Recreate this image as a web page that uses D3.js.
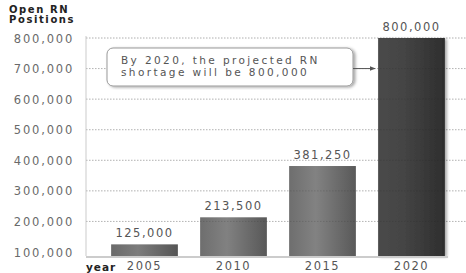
<!DOCTYPE html>
<html>
<head>
<meta charset="utf-8">
<script src="https://cdn.jsdelivr.net/npm/d3@7"></script>
<style>
body { margin: 0; background: #fff; }
text { font-family: "DejaVu Sans", Verdana, sans-serif; }
</style>
</head>
<body>
<svg class="chart"></svg>
<script>
var width = 466, height = 273;

var years = ["2005", "2010", "2015", "2020"];
var openings = [125000, 213500, 381250, 800000];
var yTicks = [100000, 200000, 300000, 400000, 500000, 600000, 700000, 800000];
var note = ["By 2020, the projected RN", "shortage will be 800,000"];

var chart = d3.select(".chart")
    .attr("width", width)
    .attr("height", height);

var defs = chart.append("defs");
var gradients = [["#6a6a6a", "#7c7c7c", "#555"], ["#6e6e6e", "#818181", "#585858"],
                 ["#6e6e6e", "#828282", "#595959"], ["#4a4a4a", "#444", "#2e2e2e"]];
gradients.forEach(function(c, i) {
    var g = defs.append("linearGradient").attr("id", "bar" + i);
    g.append("stop").attr("offset", "0%").attr("stop-color", c[0]);
    g.append("stop").attr("offset", "40%").attr("stop-color", c[1]);
    g.append("stop").attr("offset", "100%").attr("stop-color", c[2]);
});
var sh = defs.append("filter").attr("id", "shadow").attr("x", "-20%").attr("width", "150%");
sh.append("feDropShadow").attr("dx", 2).attr("dy", 1).attr("stdDeviation", 1.5)
    .attr("flood-color", "#000").attr("flood-opacity", 0.35);

var left = 86, bottom = 256;

var x = d3.scaleBand()
    .domain(years)
    .range([100, 456])
    .paddingInner(0.25)
    .paddingOuter(0.125);

var y = d3.scaleLinear()
    .domain([100000, 800000])
    .range([252, 38]);

var fmt = d3.format(",");

// title
chart.selectAll(".title")
    .data(["Open RN", "Positions"])
    .enter().append("text")
    .attr("class", "title")
    .attr("x", 9).attr("y", function(d, i) { return 13 + i * 10; })
    .style("font-size", "10px").style("font-weight", "bold")
    .style("letter-spacing", "1.6px").attr("fill", "#222")
    .text(function(d) { return d; });

// y axis
var yAxis = d3.axisLeft(y).tickValues(yTicks).tickFormat(fmt).tickSize(0).tickPadding(12);
var ya = chart.append("g").attr("transform", "translate(" + left + ",0)").call(yAxis);
ya.select(".domain").remove();
ya.selectAll("text").attr("fill", "#6a6a6a").style("font-size", "11.5px")
    .style("letter-spacing", "1.8px").attr("dy", "0.35em");

// gridlines
chart.append("g").selectAll("line")
    .data(yTicks.slice(1))
    .enter().append("line")
    .attr("x1", left).attr("x2", width)
    .attr("y1", function(d) { return y(d); })
    .attr("y2", function(d) { return y(d); })
    .attr("stroke", "#c4c4c4").attr("stroke-width", 0.8)
    .attr("stroke-dasharray", "1.5,1.5");

// vertical axis line
chart.append("line")
    .attr("x1", left).attr("x2", left)
    .attr("y1", 36).attr("y2", bottom)
    .attr("stroke", "#ddd").attr("stroke-width", 1.5);

// bars
var bar = chart.append("g").selectAll("g")
    .data(openings)
    .enter().append("g");

bar.append("rect")
    .attr("x", function(d, i) { return x(years[i]); })
    .attr("y", function(d) { return y(d); })
    .attr("width", x.bandwidth())
    .attr("height", function(d) { return bottom - y(d); })
    .attr("fill", function(d, i) { return "url(#bar" + i + ")"; })
    .attr("filter", function(d, i) { return i == 3 ? "url(#shadow)" : null; });

bar.append("text")
    .attr("x", function(d, i) { return x(years[i]) + x.bandwidth() / 2; })
    .attr("y", function(d) { return y(d) - 7; })
    .attr("text-anchor", "middle")
    .attr("fill", "#555")
    .style("font-size", "11.5px")
    .style("letter-spacing", "1.5px")
    .text(function(d) { return fmt(d); });

// gridlines faintly over bars
chart.append("g").selectAll("line")
    .data(yTicks.slice(1))
    .enter().append("line")
    .attr("x1", left).attr("x2", width)
    .attr("y1", function(d) { return y(d); })
    .attr("y2", function(d) { return y(d); })
    .attr("stroke", "#222").attr("stroke-opacity", 0.2).attr("stroke-width", 0.8)
    .attr("stroke-dasharray", "1.5,1.5");

// x axis
chart.append("line")
    .attr("x1", left).attr("x2", 448)
    .attr("y1", bottom + 1).attr("y2", bottom + 1)
    .attr("stroke", "#ccc").attr("stroke-width", 2);

var xAxis = d3.axisBottom(x).tickSize(0).tickPadding(6);
var xa = chart.append("g").attr("transform", "translate(0," + bottom + ")").call(xAxis);
xa.select(".domain").remove();
xa.selectAll("text").attr("fill", "#555").style("font-size", "11.5px").style("letter-spacing", "1.5px");

chart.append("text").attr("x", 86).attr("y", 271)
    .style("font-size", "10.5px").style("font-weight", "bold")
    .style("letter-spacing", "1px").attr("fill", "#222")
    .text("year");

// annotation
var ax = 107, ay = 48, aw = 246, ah = 38;
chart.append("rect")
    .attr("x", ax).attr("y", ay).attr("width", aw).attr("height", ah)
    .attr("rx", 6).attr("fill", "#fff").attr("stroke", "#999").attr("stroke-width", 1)
    .attr("filter", "url(#shadow)");
chart.selectAll(".note")
    .data(note)
    .enter().append("text")
    .attr("class", "note")
    .attr("x", ax + 14)
    .attr("y", function(d, i) { return ay + 16 + i * 12; })
    .attr("fill", "#555")
    .style("font-size", "10.5px")
    .style("letter-spacing", "2.4px")
    .text(function(d) { return d; });

defs.append("marker").attr("id", "arrow")
    .attr("viewBox", "0 0 10 10").attr("refX", 9).attr("refY", 5)
    .attr("markerWidth", 6).attr("markerHeight", 6).attr("orient", "auto")
    .append("path").attr("d", "M0,1L10,5L0,9Z").attr("fill", "#555");
chart.append("line")
    .attr("x1", ax + aw).attr("x2", x("2020") - 3)
    .attr("y1", y(700000)).attr("y2", y(700000))
    .attr("stroke", "#555").attr("stroke-width", 1)
    .attr("marker-end", "url(#arrow)");
</script>
</body>
</html>
